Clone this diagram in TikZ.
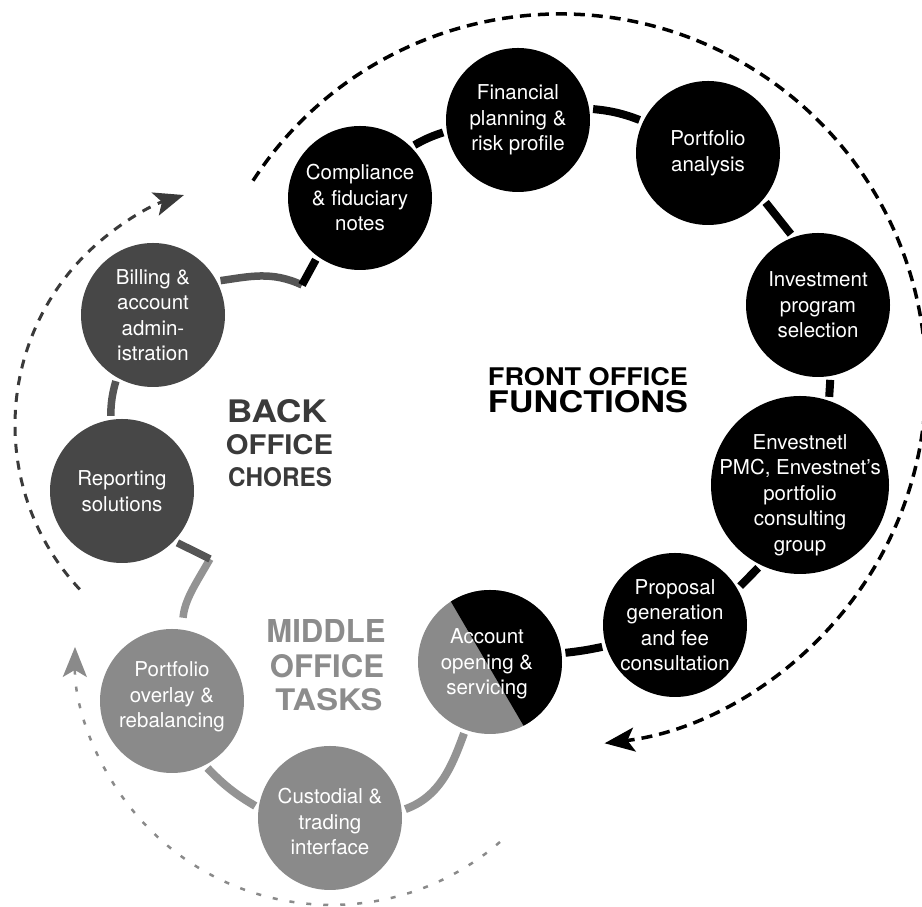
\documentclass[tikz,border=0pt]{standalone}
\usepackage{graphicx}
\usepackage{fontspec}
\setmainfont{TeX Gyre Heros}
\usetikzlibrary{arrows.meta,calc}
\definecolor{backgray}{HTML}{474747}
\definecolor{backline}{HTML}{555555}
\definecolor{midgray}{HTML}{8A8A8A}
\definecolor{midline}{HTML}{939393}
\definecolor{backhead}{HTML}{3A3A3A}
\definecolor{midhead}{HTML}{8C8C8C}
\begin{document}
\begin{tikzpicture}[x=1pt,y=1pt,
  circ/.style={circle, inner sep=0pt, outer sep=0pt, minimum size=144pt},
  bigcirc/.style={circle, inner sep=0pt, outer sep=0pt, minimum size=178pt},
  ctext/.style={text=white, align=center, inner sep=0pt, font=\fontsize{20.5}{25.5}\selectfont},
  head/.style={anchor=base, inner sep=0pt, font=\bfseries},
  conn/.style={line width=8pt, shorten <=4pt, shorten >=4pt},
  frontdash/.style={line width=3.5pt, dash pattern=on 11pt off 7pt, black},
  leftdash/.style={line width=3pt, dash pattern=on 9pt off 8pt, backhead},
  botdash/.style={line width=2.5pt, dash pattern=on 5pt off 12pt, midgray},
  tipbig/.style={-{Stealth[length=30pt,width=24pt,inset=7pt]}}
]
\useasboundingbox (0,0) rectangle (922,907);

% ---- circles ----
\node[circ, fill=black] (F) at (518,787) {};
\node[circ, fill=black] (C) at (360,709) {};
\node[circ, fill=black] (P) at (708,754) {};
\node[circ, fill=black] (I) at (818,602) {};
\node[bigcirc, fill=black] (E) at (800,422) {};
\node[circ, fill=black] (Pr) at (675,282) {};
\node[circ, fill=midgray] (A) at (490,245) {};
\begin{scope}
  \clip (A) circle (72pt);
  \fill[black] (436.5,330) -- (620,330) -- (620,160) -- (536,160) -- cycle;
\end{scope}
\node[circ, fill=midgray] (Cu) at (330,89) {};
\node[circ, fill=midgray] (O) at (172,206) {};
\node[circ, fill=backgray] (R) at (122,416) {};
\node[circ, fill=backgray] (B) at (153,592) {};

% ---- circle texts ----
\node[ctext] (Ft) at (F) {Financial\\planning \&\\risk profile};
\node[ctext] (Ct) at (C) {Compliance\\\& fiduciary\\notes};
\node[ctext] (Pt) at (P) {Portfolio\\analysis};
\node[ctext] (It) at (I) {Investment\\program\\selection};
\node[ctext] (Et) at ($(E)+(0,-10)$) {Envestnetl\\PMC, Envestnet's\\portfolio\\consulting\\group};
\node[ctext] (Prt) at (Pr) {Proposal\\generation\\and fee\\consultation};
\node[ctext] (At) at ($(A)+(-3,-2)$) {Account\\opening \&\\servicing};
\node[ctext] (Cut) at ($(Cu)+(0,-4)$) {Custodial \&\\trading\\interface};
\node[ctext] (Ot) at ($(O)+(0,4)$) {Portfolio\\overlay \&\\rebalancing};
\node[ctext] (Rt) at (R) {Reporting\\solutions};
\node[ctext] (Bt) at (B) {Billing \&\\account\\admin-\\istration};

% ---- headings ----
\node[head, text=black] (h1) at (588,521) {\resizebox{200pt}{18pt}{FRONT OFFICE}};
\node[head, text=black] (h2) at (588,494) {\resizebox{200pt}{22pt}{FUNCTIONS}};
\node[head, text=backhead] (b1) at (277,484) {\resizebox{100pt}{23pt}{BACK}};
\node[head, text=backhead] (b2) at (279.5,452) {\resizebox{107pt}{20pt}{OFFICE}};
\node[head, text=backhead] (b3) at (280,420) {\resizebox{104pt}{19pt}{CHORES}};
\node[head, text=midhead] (m1) at (326,264) {\resizebox{119pt}{23pt}{MIDDLE}};
\node[head, text=midhead] (m2) at (327,229) {\resizebox{114pt}{23pt}{OFFICE}};
\node[head, text=midhead] (m3) at (329,196) {\resizebox{107pt}{22pt}{TASKS}};

% ---- connectors ----
\draw[conn, black] (C.45) to[bend left=6] (F.189);
\draw[conn, black] (F.9) to[bend left=8] (P.154);
\draw[conn, black] (P.-40) -- (I.110);
\draw[conn, black] (I.-80) -- (E.71);
\draw[conn, black] (E.244) -- (Pr.30);
\draw[conn, black] (Pr.197) to[bend left=3] (A.7);
\draw[conn, midline] (A.250) to[out=250,in=20] (Cu.6);
\draw[conn, midline] (Cu.172) to[bend left=8] (O.-63);
\coordinate (k1) at (210,348);
\draw[line width=7.5pt, midline, shorten <=12pt] (O.82) to[out=85,in=240] (k1);
\draw[line width=7.5pt, backline, shorten >=4pt] (k1) -- (R.-44.5);
\draw[line width=7.5pt, backline, shorten <=4pt, shorten >=4pt] (R.99) to[bend left=8] (B.240);
\coordinate (k2) at (302,622);
\draw[line width=7.5pt, backline, shorten <=4pt] (B.28) to[out=8,in=155] (k2);
\draw[line width=8pt, black, shorten >=4pt] (k2) -- (C.234);

% ---- dashed cycle arrows ----
\coordinate (bigc) at (560,527);
\draw[frontdash, tipbig] ($(bigc)+(147:366)$) arc[start angle=147, end angle=-83, radius=366];
\coordinate (lc) at (256,482);
\draw[leftdash, tipbig] ($(lc)+(223:241)$) arc[start angle=223, end angle=107.4, radius=241];
\coordinate (mc) at (331.6,258.7);
\draw[botdash, tipbig] ($(mc)+(-49:256.6)$) arc[start angle=-49, end angle=-180.3, radius=256.6];
\end{tikzpicture}
\end{document}
